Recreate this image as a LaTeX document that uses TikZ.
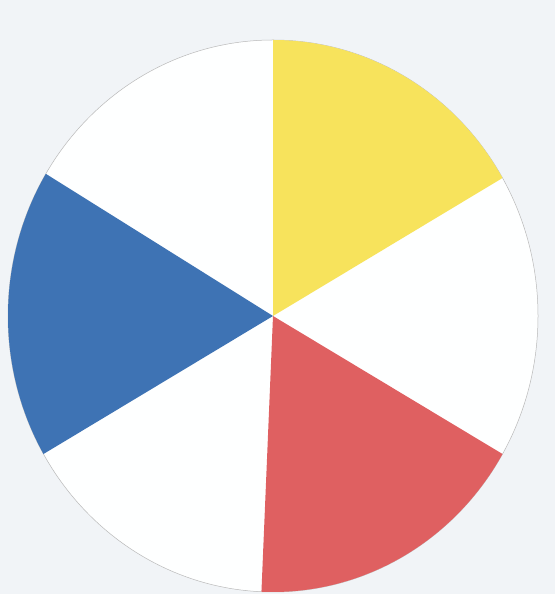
\documentclass[tikz,border=0pt]{standalone}
\usepackage{xcolor}
\usetikzlibrary{calc}

\definecolor{paper}{RGB}{241,244,247}
\definecolor{wheelyellow}{RGB}{247,227,92}
\definecolor{wheelblue}{RGB}{62,115,180}
\definecolor{wheelred}{RGB}{223,96,97}

\begin{document}
\begin{tikzpicture}[x=1pt, y=1pt,
  pencil/.style={draw=gray!55, line width=0.5pt},
  disc/.style={fill=white!96!paper}]
\useasboundingbox (0,0) rectangle (555,594);
\fill[paper] (0,0) rectangle (555,594);
\coordinate (hub) at (273,278);
\fill[disc] (hub) ellipse [x radius=265pt, y radius=276pt];
\draw[pencil] (hub) ellipse [x radius=265pt, y radius=276pt];
% the three primary wedges
\foreach \a/\b/\c in {30/90/wheelyellow, 149/210/wheelblue, 267.5/330/wheelred}
  \fill[\c] (hub) -- ($(hub)+(\a:265pt and 276pt)$)
    arc[start angle=\a, end angle=\b, x radius=265pt, y radius=276pt] -- cycle;
\end{tikzpicture}
\end{document}
